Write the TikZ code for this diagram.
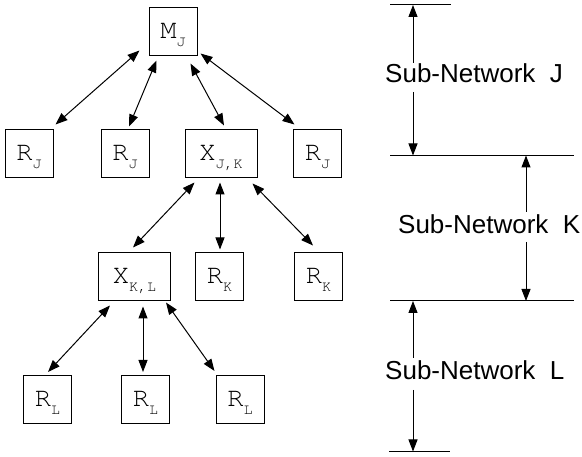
\documentclass[tikz,border=0pt]{standalone}
\usepackage{fontspec}
\setmainfont{Liberation Sans}
\setmonofont{TeX Gyre Cursor}
\usetikzlibrary{arrows.meta,calc}
\newcommand{\boxlab}[2]{\smash{\raisebox{-7pt}{\fontsize{27}{27}\selectfont #1}\raisebox{-15pt}{\fontsize{15}{15}\selectfont #2}}}
\tikzset{
  box/.style={draw, line width=1pt, minimum width=48pt, minimum height=48pt, inner sep=0pt, font=\ttfamily},
  wbox/.style={box, minimum width=72pt},
  arr/.style={line width=1pt, {Triangle[length=12pt,width=9pt]}-{Triangle[length=12pt,width=9pt]}},
  sarr/.style={line width=1pt, -{Triangle[length=12pt,width=9pt]}},
  lbl/.style={anchor=base west, inner sep=0pt, font=\fontsize{26}{26}\selectfont},
  level/.style={line width=1pt}
}
\begin{document}
\begin{tikzpicture}[x=1pt,y=-1pt]
\useasboundingbox (0,0) rectangle (582,457);
% nodes
\node[box]  (mj)  at (173,32)    {\boxlab{M}{J}};
\node[box]  (rj1) at (29,154)    {\boxlab{R}{J}};
\node[box]  (rj2) at (125,154)   {\boxlab{R}{J}};
\node[wbox] (xjk) at (221,154)   {\boxlab{X}{J,K}};
\node[box]  (rj4) at (317.5,154) {\boxlab{R}{J}};
\node[wbox] (xkl) at (134.5,277) {\boxlab{X}{K,L}};
\node[box]  (rk1) at (219.5,277) {\boxlab{R}{K}};
\node[box]  (rk2) at (318.5,277) {\boxlab{R}{K}};
\node[box]  (rl1) at (47.5,399.5)  {\boxlab{R}{L}};
\node[box]  (rl2) at (145.5,399.5) {\boxlab{R}{L}};
\node[box]  (rl3) at (240,399.5)   {\boxlab{R}{L}};
% connectors
\draw[arr] ($(mj.south west)+(-9,-6)$) -- ($(rj1.north east)+(2,-5)$);
\draw[arr] ($(mj.south west)+(8,4)$) -- ($(rj2.north)+(4,-3)$);
\draw[arr] ($(mj.south east)+(-7,7)$) -- ($(xjk.north)+(3,-4)$);
\draw[arr] ($(mj.south east)+(3,-3)$) -- ($(rj4.north west)+(1.5,-5)$);
\draw[arr] ($(xjk.south west)+(10,4)$) -- ($(xkl.north)+(-1.5,-5)$);
\draw[arr] ($(xjk.south)+(-1,4)$) -- ($(rk1.north)+(0.5,-3)$);
\draw[arr] ($(xjk.south east)+(-5,5)$) -- ($(rk2.north)+(-5.5,-7)$);
\draw[arr] ($(xkl.south west)+(12,4)$) -- ($(rl1.north)+(0.5,-3)$);
\draw[arr] ($(xkl.south)+(8.5,5)$) -- ($(rl2.north)+(-2.5,-3)$);
\draw[arr] ($(xkl.south east)+(-5,1)$) -- ($(rl3.north west)+(-1,-4)$);
% right side levels
\coordinate (h1a) at (390,5);   \coordinate (h1b) at (451,5);
\coordinate (h2a) at (390,155.5); \coordinate (h2b) at (574,155.5);
\coordinate (h3a) at (390,301); \coordinate (h3b) at (574,301);
\coordinate (h4a) at (389,451.5); \coordinate (h4b) at (450,451.5);
\draw[level] (h1a) -- (h1b);
\draw[level] (h2a) -- (h2b);
\draw[level] (h3a) -- (h3b);
\draw[level] (h4a) -- (h4b);
\node[lbl] (tj) at (385,83)  {Sub-Network\ \ J};
\node[lbl] (tk) at (398,234) {Sub-Network\ \ K};
\node[lbl] (tl) at (385,380) {Sub-Network\ \ L};
\coordinate (jt) at (413,63);  \coordinate (jb) at (413,92);
\coordinate (kt) at (526,212); \coordinate (kb) at (526,242);
\coordinate (lt) at (413,358); \coordinate (lb) at (413,390);
\draw[sarr] (jt) -- (jt |- h1a);
\draw[sarr] (jb) -- (jb |- h2a);
\draw[sarr] (kt) -- (kt |- h2a);
\draw[sarr] (kb) -- (kb |- h3a);
\draw[sarr] (lt) -- (lt |- h3a);
\draw[sarr] (lb) -- (lb |- h4a);
\end{tikzpicture}
\end{document}
